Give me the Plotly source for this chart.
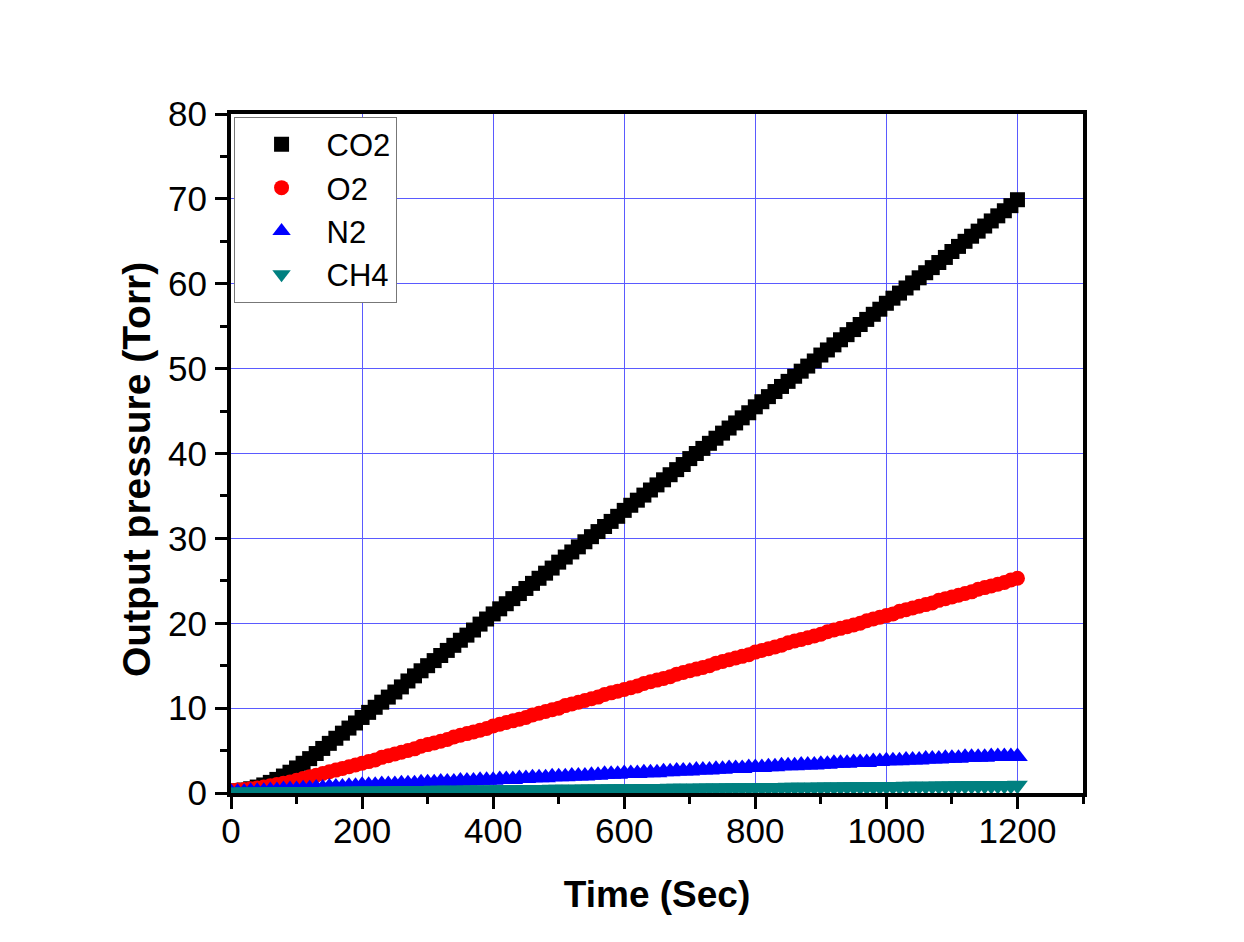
import plotly.graph_objects as go

time_s = list(range(0, 1201, 10))

co2 = [0.2, 0.25, 0.35, 0.5, 0.7, 0.95, 1.25, 1.6, 2.0, 2.45, 2.95,
       3.5, 4.05, 4.65, 5.25, 5.85, 6.45, 7.05, 7.65, 8.25, 8.9,
       9.5, 10.1, 10.7, 11.3, 11.9, 12.5, 13.2, 13.8, 14.4, 15.0,
       15.6, 16.2, 16.8, 17.4, 18.0, 18.6, 19.2, 19.9, 20.5, 21.1,
       21.7, 22.3, 22.9, 23.5, 24.1, 24.7, 25.3, 25.9, 26.5, 27.2,
       27.8, 28.4, 29.0, 29.6, 30.2, 30.8, 31.4, 32.0, 32.6, 33.3,
       33.9, 34.5, 35.1, 35.7, 36.3, 36.9, 37.5, 38.1, 38.7, 39.4,
       40.0, 40.6, 41.2, 41.8, 42.4, 43.0, 43.6, 44.2, 44.8, 45.5,
       46.1, 46.7, 47.3, 47.9, 48.5, 49.1, 49.7, 50.3, 50.9, 51.6,
       52.2, 52.8, 53.4, 54.0, 54.6, 55.2, 55.8, 56.4, 57.0, 57.7,
       58.3, 58.9, 59.5, 60.1, 60.7, 61.3, 61.9, 62.5, 63.1, 63.8,
       64.4, 65.0, 65.6, 66.2, 66.8, 67.4, 68.0, 68.6, 69.2, 69.9]

o2 = [0.3, 0.35, 0.4, 0.5, 0.6, 0.7, 0.85, 1.0, 1.15, 1.3, 1.5,
      1.7, 1.9, 2.1, 2.3, 2.5, 2.7, 2.9, 3.1, 3.3, 3.5,
      3.7, 3.9, 4.2, 4.4, 4.6, 4.8, 5.0, 5.2, 5.5, 5.7,
      5.9, 6.1, 6.3, 6.6, 6.8, 7.0, 7.2, 7.4, 7.6, 7.9,
      8.1, 8.3, 8.5, 8.7, 8.9, 9.2, 9.4, 9.6, 9.8, 10.0,
      10.3, 10.5, 10.7, 10.9, 11.1, 11.3, 11.6, 11.8, 12.0, 12.2,
      12.4, 12.6, 12.9, 13.1, 13.3, 13.5, 13.7, 14.0, 14.2, 14.4,
      14.6, 14.8, 15.0, 15.3, 15.5, 15.7, 15.9, 16.1, 16.3, 16.6,
      16.8, 17.0, 17.2, 17.4, 17.7, 17.9, 18.1, 18.3, 18.5, 18.7,
      19.0, 19.2, 19.4, 19.6, 19.8, 20.0, 20.3, 20.5, 20.7, 20.9,
      21.1, 21.4, 21.6, 21.8, 22.0, 22.2, 22.4, 22.7, 22.9, 23.1,
      23.3, 23.5, 23.7, 24.0, 24.2, 24.4, 24.6, 24.8, 25.1, 25.3]

n2 = [0.1, 0.1, 0.1, 0.2, 0.2, 0.2, 0.3, 0.3, 0.4, 0.4, 0.4,
      0.5, 0.5, 0.6, 0.6, 0.7, 0.7, 0.7, 0.8, 0.8, 0.9,
      0.9, 0.9, 1.0, 1.0, 1.0, 1.1, 1.1, 1.1, 1.2, 1.2,
      1.2, 1.3, 1.3, 1.3, 1.4, 1.4, 1.4, 1.5, 1.5, 1.5,
      1.6, 1.6, 1.6, 1.7, 1.7, 1.8, 1.8, 1.8, 1.9, 1.9,
      1.9, 2.0, 2.0, 2.0, 2.1, 2.1, 2.2, 2.2, 2.2, 2.3,
      2.3, 2.3, 2.4, 2.4, 2.4, 2.5, 2.5, 2.6, 2.6, 2.6,
      2.7, 2.7, 2.7, 2.8, 2.8, 2.9, 2.9, 2.9, 3.0, 3.0,
      3.0, 3.1, 3.1, 3.2, 3.2, 3.2, 3.3, 3.3, 3.3, 3.4,
      3.4, 3.5, 3.5, 3.5, 3.6, 3.6, 3.6, 3.7, 3.7, 3.8,
      3.8, 3.8, 3.9, 3.9, 3.9, 4.0, 4.0, 4.0, 4.1, 4.1,
      4.1, 4.2, 4.2, 4.2, 4.2, 4.3, 4.3, 4.3, 4.3, 4.3]

ch4 = [0.10, 0.11, 0.11, 0.12, 0.13, 0.13, 0.14, 0.15, 0.15, 0.16, 0.17,
       0.17, 0.18, 0.19, 0.19, 0.20, 0.21, 0.21, 0.22, 0.23, 0.23,
       0.24, 0.25, 0.25, 0.26, 0.27, 0.27, 0.28, 0.29, 0.29, 0.30,
       0.31, 0.31, 0.32, 0.33, 0.33, 0.34, 0.35, 0.35, 0.36, 0.37,
       0.37, 0.38, 0.39, 0.39, 0.40, 0.41, 0.41, 0.42, 0.43, 0.43,
       0.44, 0.45, 0.45, 0.46, 0.47, 0.47, 0.48, 0.49, 0.49, 0.50,
       0.51, 0.51, 0.52, 0.53, 0.53, 0.54, 0.55, 0.55, 0.56, 0.57,
       0.57, 0.58, 0.59, 0.59, 0.60, 0.61, 0.61, 0.62, 0.63, 0.63,
       0.64, 0.65, 0.65, 0.66, 0.67, 0.67, 0.68, 0.69, 0.69, 0.70,
       0.71, 0.71, 0.72, 0.73, 0.73, 0.74, 0.75, 0.75, 0.76, 0.77,
       0.77, 0.78, 0.79, 0.79, 0.80, 0.81, 0.81, 0.82, 0.83, 0.83,
       0.84, 0.85, 0.85, 0.86, 0.87, 0.87, 0.88, 0.89, 0.89, 0.90]

series = [
    ("CO2", co2, "square", "#000000", 15),
    ("O2", o2, "circle", "#ff0000", 15),
    ("N2", n2, "triangle-up", "#0000ff", 18),
    ("CH4", ch4, "triangle-down", "#008080", 18),
]

FONT = "Liberation Sans, Arial, sans-serif"

fig = go.Figure()
for name, vals, sym, col, sz in series:
    fig.add_trace(go.Scatter(
        x=time_s, y=vals, mode="markers", name=name,
        marker=dict(symbol=sym, color=col, size=sz, line=dict(width=0)),
    ))

axis_common = dict(
    showline=True, linecolor="black", linewidth=4, mirror=True,
    ticks="outside", ticklen=12, tickwidth=3, tickcolor="black",
    showgrid=True, gridcolor="#5a5aff", gridwidth=1,
    zeroline=False,
    tickfont=dict(family=FONT, size=35, color="black"),
)

fig.update_xaxes(
    range=[0, 1300], dtick=200, tick0=0,
    minor=dict(ticks="outside", ticklen=7, tickwidth=3, tickcolor="black", dtick=100, showgrid=False),
    title=dict(text="<b>Time (Sec)</b>", font=dict(family=FONT, size=37, color="black"), standoff=33),
    ticklabelstandoff=-8,
    **axis_common,
)
fig.update_yaxes(
    range=[0, 80], dtick=10, tick0=0,
    minor=dict(ticks="outside", ticklen=7, tickwidth=3, tickcolor="black", dtick=5, showgrid=False),
    ticklabelstandoff=1,
    **axis_common,
)

fig.add_annotation(
    text="<b>Output pressure (Torr)</b>", textangle=-90,
    xref="paper", yref="paper", x=-0.1103, y=0.4757,
    xanchor="center", yanchor="middle", showarrow=False,
    font=dict(family=FONT, size=39, color="black"),
)

fig.update_layout(
    width=1244, height=942,
    margin=dict(l=231, r=161, t=114, b=149, autoexpand=False),
    paper_bgcolor="white", plot_bgcolor="white",
    font=dict(family=FONT, color="black"),
    showlegend=True,
    legend=dict(
        x=0.003, y=0.996, xanchor="left", yanchor="top",
        bgcolor="white", bordercolor="#777777", borderwidth=1,
        font=dict(family=FONT, size=31, color="black"),
        itemwidth=80, indentation=2, tracegroupgap=0,
        entrywidth=80, entrywidthmode="pixels",
    ),
)

fig.write_html("out.html")
